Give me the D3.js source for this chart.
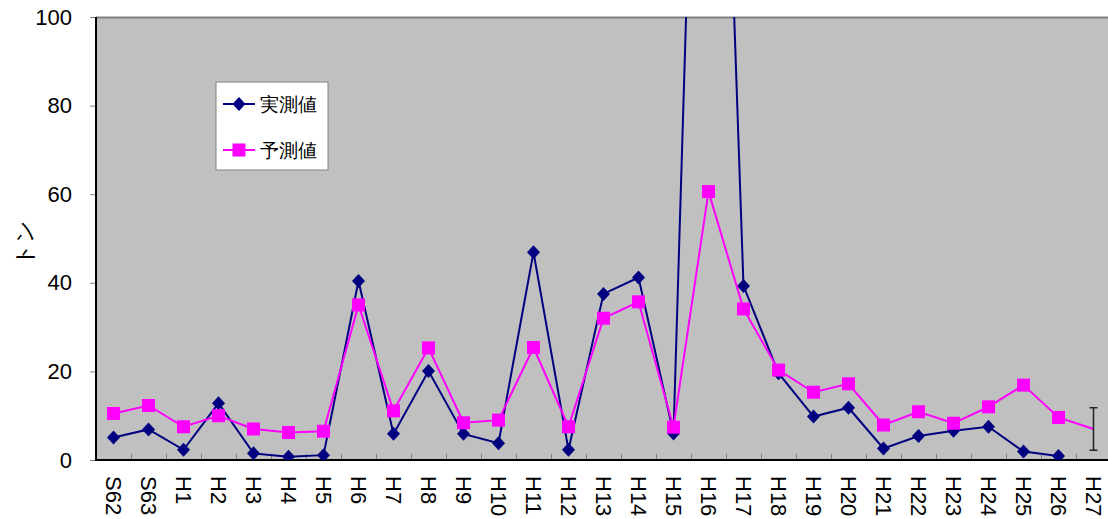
<!DOCTYPE html>
<html><head><meta charset="utf-8">
<script src="https://cdn.jsdelivr.net/npm/d3@7"></script>
<style>
html,body{margin:0;padding:0;background:#fff;}
svg{display:block;}
text{font-family:"Liberation Sans",Arial,sans-serif;}
</style></head>
<body>
<svg id="chart" width="1108" height="519"></svg>
<script>
const categories = ["S62","S63","H1","H2","H3","H4","H5","H6","H7","H8","H9","H10","H11","H12","H13","H14","H15","H16","H17","H18","H19","H20","H21","H22","H23","H24","H25","H26","H27"];
const measured = [5.1,6.9,2.3,12.8,1.5,0.75,1.1,40.4,5.9,20.1,5.9,3.8,46.9,2.3,37.5,41.2,6.0,268,39.3,19.6,9.8,11.8,2.6,5.4,6.6,7.5,1.9,0.9,null];
const predicted = [10.5,12.3,7.5,10.0,7.0,6.2,6.5,35.0,11.1,25.3,8.4,9.0,25.4,7.5,32.0,35.7,7.4,60.6,34.1,20.3,15.3,17.2,7.9,10.9,8.3,12.0,16.9,9.6,7.0];
const errorBar = {category:"H27", low:2.2, high:11.8};
const yTicks = [0,20,40,60,80,100];
const seriesNames = ["実測値","予測値"];
const yTitle = "トン";

(function(){
const svg = d3.select("#chart");
const pLeft = 96, pTop = 17, pBottom = 460, band = 35;
const x = d3.scaleBand().domain(categories).range([pLeft, pLeft + band*categories.length]).padding(0);
const cx = c => x(c) + x.bandwidth()/2;
const y = d3.scaleLinear().domain([0,100]).range([pBottom, pTop]);
const pRight = pLeft + band*categories.length;

// plot background
svg.append("rect").attr("x", pLeft).attr("y", pTop).attr("width", pRight-pLeft).attr("height", pBottom-pTop).attr("fill", "#C0C0C0");
svg.append("line").attr("x1", pLeft).attr("x2", pRight).attr("y1", pTop+0.5).attr("y2", pTop+0.5).attr("stroke", "#808080").attr("stroke-width", 2);

svg.append("clipPath").attr("id","plotclip").append("rect").attr("x", pLeft).attr("y", pTop).attr("width", pRight-pLeft).attr("height", pBottom-pTop);

// x boundary ticks
svg.append("g").selectAll("line").data(categories.slice(1)).join("line")
  .attr("x1", d => x(d)+0.5).attr("x2", d => x(d)+0.5)
  .attr("y1", pBottom).attr("y2", pBottom-6)
  .attr("stroke", "#808080").attr("stroke-width", 1);

// y axis
const yAxis = svg.append("g").attr("transform", `translate(${pLeft},0)`)
  .call(d3.axisLeft(y).tickValues(yTicks).tickSize(6).tickPadding(18).tickFormat(d3.format("d")));
yAxis.select(".domain").remove();
yAxis.selectAll(".tick line").attr("stroke", "#808080");
yAxis.selectAll("text").attr("font-size", 22).attr("fill", "#000").attr("font-family", "'Liberation Sans',Arial,sans-serif");
svg.append("line").attr("x1", pLeft).attr("x2", pLeft).attr("y1", pTop).attr("y2", pBottom).attr("stroke", "#000").attr("stroke-width", 2);

// x axis labels
const xAxis = svg.append("g").attr("transform", `translate(0,${pBottom})`)
  .call(d3.axisBottom(x).tickSize(0).tickPadding(0));
xAxis.select(".domain").remove();
xAxis.selectAll("text")
  .attr("font-size", 22).attr("fill", "#000").attr("font-family", "'Liberation Sans',Arial,sans-serif")
  .attr("y", 0).attr("dy", null)
  .attr("text-anchor", "start")
  .attr("dominant-baseline", "central")
  .attr("transform", "translate(0,16) rotate(90)");
svg.append("line").attr("x1", pLeft-1).attr("x2", pRight).attr("y1", pBottom).attr("y2", pBottom).attr("stroke", "#000").attr("stroke-width", 2);

// y title
svg.append("text").attr("transform", "translate(24,243) rotate(-90)")
  .attr("text-anchor", "middle").attr("dominant-baseline", "central")
  .attr("font-size", 22).attr("font-weight", 500).attr("fill", "#000")
  .attr("font-family", "'Noto Sans CJK JP',sans-serif").text(yTitle);

const plot = svg.append("g").attr("clip-path", "url(#plotclip)");
const line = d3.line().defined(d => d.v != null).x(d => cx(d.c)).y(d => y(d.v));
const mData = categories.map((c,i) => ({c, v: measured[i]}));
const pData = categories.map((c,i) => ({c, v: predicted[i]}));
const navy = "#000080", mag = "#FF00FF";

plot.append("path").datum(mData).attr("d", line).attr("fill","none").attr("stroke", navy).attr("stroke-width", 2);
plot.append("g").selectAll("path").data(mData.filter(d => d.v != null)).join("path")
  .attr("transform", d => `translate(${cx(d.c)},${y(d.v)})`)
  .attr("d", "M0,-7L6.5,0L0,7L-6.5,0Z").attr("fill", navy);

plot.append("path").datum(pData).attr("d", line).attr("fill","none").attr("stroke", mag).attr("stroke-width", 2);
plot.append("g").selectAll("rect").data(pData.filter(d => d.v != null && d.c !== errorBar.category)).join("rect")
  .attr("x", d => cx(d.c)-6.5).attr("y", d => y(d.v)-6.5).attr("width", 13).attr("height", 13).attr("fill", mag);

// error bar
const ex = cx(errorBar.category);
const eb = svg.append("g").attr("stroke", "#222").attr("stroke-width", 1.5);
eb.append("line").attr("x1", ex).attr("x2", ex).attr("y1", y(errorBar.high)).attr("y2", y(errorBar.low));
eb.append("line").attr("x1", ex-4).attr("x2", ex+4).attr("y1", y(errorBar.high)).attr("y2", y(errorBar.high));
eb.append("line").attr("x1", ex-4).attr("x2", ex+4).attr("y1", y(errorBar.low)).attr("y2", y(errorBar.low));

// legend
const lg = svg.append("g");
lg.append("rect").attr("x", 216).attr("y", 82).attr("width", 112).attr("height", 88).attr("fill", "#fff").attr("stroke", "#808080").attr("stroke-width", 1);
const entries = [{name: seriesNames[0], color: navy, shape: "diamond", yy: 104}, {name: seriesNames[1], color: mag, shape: "square", yy: 150}];
entries.forEach(e => {
  lg.append("line").attr("x1", 223).attr("x2", 255).attr("y1", e.yy).attr("y2", e.yy).attr("stroke", e.color).attr("stroke-width", 2);
  if (e.shape === "diamond") lg.append("path").attr("transform", `translate(239,${e.yy})`).attr("d", "M0,-7L6.5,0L0,7L-6.5,0Z").attr("fill", e.color);
  else lg.append("rect").attr("x", 232.5).attr("y", e.yy-6.5).attr("width", 13).attr("height", 13).attr("fill", e.color);
  lg.append("text").attr("x", 260).attr("y", e.yy).attr("dominant-baseline", "central")
    .attr("font-size", 19).attr("font-weight", 500).attr("font-family", "'Noto Sans CJK JP',sans-serif").text(e.name);
});
})();
</script>
</body></html>
